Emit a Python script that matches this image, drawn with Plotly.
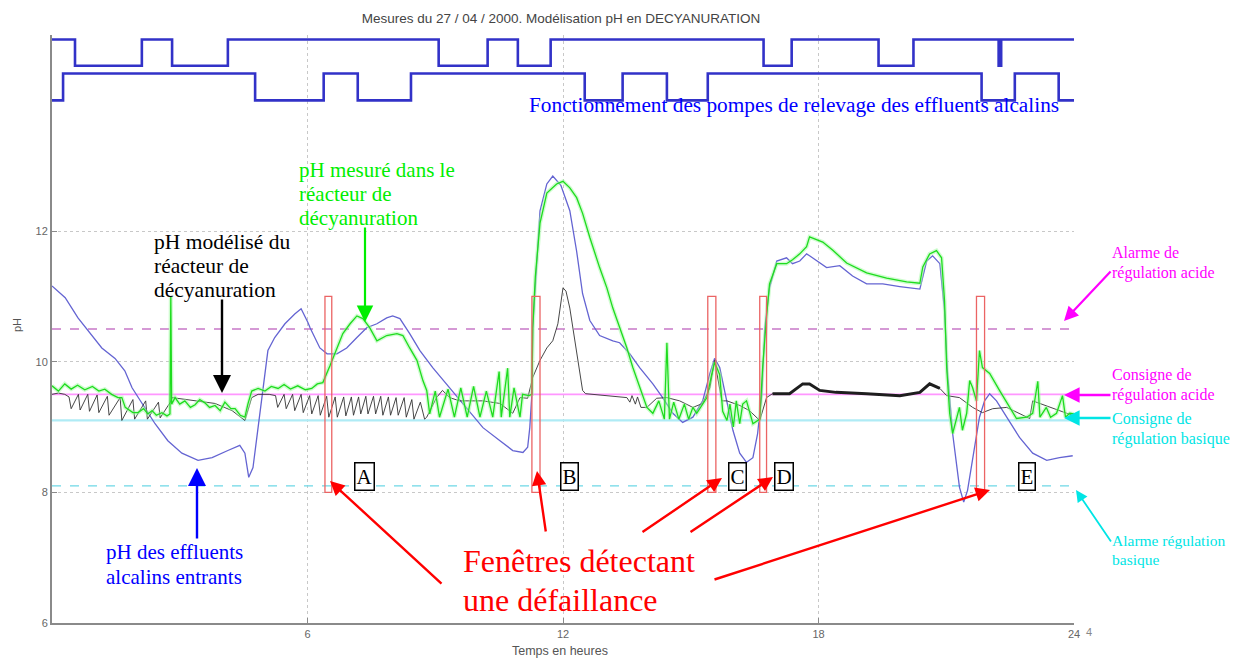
import plotly.graph_objects as go

# ---------------- data (hours, pH) ----------------
blue = [(0, 11.16), (0.31, 10.98), (0.61, 10.67), (0.85, 10.47), (1.17, 10.21), (1.48, 10.05), (1.71, 9.86),
        (1.88, 9.60), (2.11, 9.36), (2.42, 9.05), (2.72, 8.79), (3.05, 8.60), (3.43, 8.49), (3.76, 8.53),
        (4.13, 8.64), (4.41, 8.72), (4.53, 8.60), (4.62, 8.23), (4.72, 8.38), (4.84, 8.99), (5.0, 9.86),
        (5.07, 10.17), (5.23, 10.37), (5.47, 10.58), (5.70, 10.73), (5.85, 10.81), (6.01, 10.60), (6.06, 10.52),
        (6.29, 10.21), (6.46, 10.12), (6.69, 10.12), (6.92, 10.21), (7.16, 10.37), (7.39, 10.52), (7.63, 10.58),
        (7.86, 10.67), (8.0, 10.70), (8.17, 10.66), (8.40, 10.43), (8.64, 10.17), (8.94, 9.91), (9.34, 9.60),
        (9.74, 9.30), (10.12, 8.99), (10.52, 8.79), (10.82, 8.64), (11.06, 8.61), (11.17, 8.69), (11.22, 8.99),
        (11.27, 9.51), (11.29, 10.52), (11.38, 11.54), (11.46, 12.31), (11.62, 12.72), (11.76, 12.84),
        (11.95, 12.70), (12.16, 12.31), (12.32, 11.69), (12.46, 11.04), (12.63, 10.63), (12.86, 10.40),
        (13.17, 10.32), (13.33, 10.29), (13.57, 10.12), (13.80, 9.91), (14.11, 9.66), (14.34, 9.45),
        (14.58, 9.21), (14.81, 9.07), (15.05, 9.15), (15.28, 9.40), (15.45, 9.82), (15.56, 10.05), (15.68, 9.91),
        (15.85, 9.40), (15.99, 8.95), (16.15, 8.60), (16.31, 8.46), (16.46, 8.53), (16.57, 8.90), (16.67, 9.51),
        (16.74, 10.52), (16.85, 11.13), (17.02, 11.54), (17.25, 11.59), (17.39, 11.50), (17.56, 11.54),
        (17.72, 11.65), (17.79, 11.62), (18.19, 11.44), (18.5, 11.47), (18.8, 11.31), (19.13, 11.19),
        (19.51, 11.19), (19.91, 11.15), (20.38, 11.11), (20.54, 11.54), (20.68, 11.62), (20.85, 11.50),
        (20.96, 10.78), (21.03, 9.82), (21.15, 8.90), (21.31, 8.08), (21.41, 7.85), (21.5, 8.03), (21.62, 8.53),
        (21.78, 9.15), (21.9, 9.40), (22.02, 9.51), (22.18, 9.40), (22.42, 9.15), (22.72, 8.84), (23.03, 8.60),
        (23.36, 8.49), (23.66, 8.53), (23.97, 8.56)]

green = [(0.0, 9.63), (0.15, 9.55), (0.3, 9.66), (0.45, 9.58), (0.6, 9.64), (0.77, 9.57), (0.95, 9.62),
         (1.1, 9.55), (1.24, 9.58), (1.4, 9.50), (1.55, 9.45), (1.64, 9.45), (1.72, 9.30), (1.78, 9.27),
         (1.9, 9.22), (2.02, 9.22), (2.15, 9.28), (2.25, 9.20), (2.35, 9.25), (2.45, 9.18), (2.58, 9.22),
         (2.7, 9.17), (2.77, 9.20), (2.79, 11.0), (2.81, 9.35), (2.89, 9.45), (3.0, 9.35), (3.12, 9.40),
         (3.25, 9.30), (3.36, 9.34), (3.47, 9.42), (3.59, 9.37), (3.7, 9.30), (3.83, 9.33), (3.95, 9.25),
         (4.06, 9.38), (4.2, 9.28), (4.30, 9.28), (4.42, 9.18), (4.53, 9.15), (4.60, 9.35), (4.69, 9.55),
         (4.84, 9.59), (5.0, 9.55), (5.15, 9.62), (5.31, 9.59), (5.45, 9.65), (5.6, 9.58), (5.77, 9.63),
         (5.95, 9.57), (6.10, 9.59), (6.23, 9.66), (6.36, 9.68), (6.53, 9.94), (6.69, 10.21), (6.83, 10.43),
         (7.0, 10.58), (7.16, 10.70), (7.30, 10.66), (7.46, 10.52), (7.63, 10.32), (7.86, 10.40), (8.10, 10.43),
         (8.24, 10.40), (8.40, 10.21), (8.57, 10.02), (8.71, 9.71), (8.80, 9.56), (8.87, 9.20), (9.0, 9.55),
         (9.1, 9.15), (9.3, 9.58), (9.45, 9.15), (9.6, 9.60), (9.75, 9.15), (9.9, 9.62), (10.05, 9.15),
         (10.2, 9.55), (10.35, 9.15), (10.5, 9.85), (10.55, 9.15), (10.7, 9.90), (10.75, 9.15), (10.85, 9.60),
         (10.99, 9.15), (11.05, 9.50), (11.2, 9.48), (11.27, 9.50), (11.29, 10.52), (11.35, 11.3),
         (11.46, 12.12), (11.62, 12.58), (11.85, 12.72), (12.0, 12.76), (12.16, 12.66), (12.32, 12.51),
         (12.46, 12.27), (12.63, 11.90), (12.86, 11.44), (13.03, 11.13), (13.17, 10.82), (13.33, 10.52),
         (13.50, 10.21), (13.64, 9.91), (13.80, 9.60), (13.97, 9.30), (14.11, 9.21), (14.25, 9.40),
         (14.38, 9.12), (14.44, 10.29), (14.5, 9.12), (14.6, 9.38), (14.72, 9.12), (14.85, 9.35), (14.95, 9.12),
         (15.05, 9.30), (15.14, 9.21), (15.38, 9.45), (15.49, 9.80), (15.56, 9.99), (15.68, 9.80), (15.75, 9.24),
         (15.85, 9.10), (15.92, 9.35), (16.0, 9.00), (16.07, 9.40), (16.15, 9.05), (16.22, 9.35), (16.31, 9.40),
         (16.46, 9.05), (16.62, 9.12), (16.69, 9.93), (16.78, 10.69), (16.85, 11.19), (17.02, 11.50),
         (17.25, 11.50), (17.39, 11.56), (17.56, 11.65), (17.72, 11.76), (17.79, 11.91), (18.10, 11.83),
         (18.33, 11.71), (18.66, 11.51), (19.13, 11.36), (19.60, 11.28), (20.07, 11.22), (20.38, 11.20),
         (20.45, 11.45), (20.61, 11.65), (20.77, 11.70), (20.89, 11.59), (20.96, 10.93), (21.01, 9.91),
         (21.08, 9.21), (21.15, 8.90), (21.24, 9.15), (21.31, 9.30), (21.38, 8.95), (21.48, 9.21), (21.55, 9.71),
         (21.62, 9.60), (21.71, 9.40), (21.78, 10.17), (21.85, 9.91), (22.02, 9.82), (22.25, 9.56),
         (22.49, 9.30), (22.65, 9.13), (22.89, 9.15), (23.03, 9.21), (23.15, 9.70), (23.2, 9.15), (23.35, 9.30),
         (23.45, 9.15), (23.59, 9.21), (23.73, 9.48), (23.8, 9.15), (23.9, 9.21), (24.0, 9.20)]

black = [(0.00, 9.50), (0.15, 9.52), (0.30, 9.50), (0.40, 9.46), (0.45, 9.28), (0.62, 9.50), (0.66, 9.26),
         (0.84, 9.50), (0.88, 9.24), (1.06, 9.49), (1.10, 9.22), (1.30, 9.47), (1.34, 9.18), (1.60, 9.45),
         (1.64, 9.10), (1.90, 9.42), (1.94, 9.12), (2.20, 9.40), (2.24, 9.12), (2.50, 9.38), (2.54, 9.14),
         (2.78, 9.38), (2.82, 9.45), (3.36, 9.40), (3.83, 9.36), (4.23, 9.25), (4.53, 9.10), (4.69, 9.45),
         (4.84, 9.50), (5.10, 9.50), (5.25, 9.48), (5.30, 9.30), (5.45, 9.50), (5.50, 9.28), (5.65, 9.50),
         (5.70, 9.25), (5.85, 9.50), (5.90, 9.22), (6.05, 9.48), (6.10, 9.20), (6.25, 9.48), (6.30, 9.18),
         (6.45, 9.47), (6.50, 9.15), (6.65, 9.46), (6.70, 9.15), (6.85, 9.46), (6.90, 9.17), (7.03, 9.46),
         (7.08, 9.18), (7.20, 9.46), (7.25, 9.20), (7.37, 9.47), (7.42, 9.20), (7.55, 9.47), (7.60, 9.20),
         (7.72, 9.47), (7.77, 9.18), (7.90, 9.46), (7.95, 9.18), (8.08, 9.45), (8.13, 9.18), (8.27, 9.45),
         (8.32, 9.15), (8.45, 9.42), (8.50, 9.12), (8.65, 9.38), (8.75, 9.12), (8.80, 9.15), (9.03, 9.45),
         (9.17, 9.56), (9.34, 9.45), (9.57, 9.40), (10.12, 9.40), (10.52, 9.36), (10.82, 9.21), (10.99, 9.45),
         (11.17, 9.44), (11.29, 9.76), (11.46, 10.02), (11.62, 10.21), (11.76, 10.32), (11.88, 10.58),
         (12.0, 11.13), (12.07, 11.08), (12.16, 10.82), (12.30, 10.21), (12.46, 9.56), (12.53, 9.51),
         (13.03, 9.48), (13.50, 9.45), (13.57, 9.38), (13.62, 9.48), (13.70, 9.35), (13.75, 9.46), (13.83, 9.30),
         (13.97, 9.30), (14.20, 9.44), (14.44, 9.45), (14.74, 9.40), (15.05, 9.30), (15.28, 9.36), (15.45, 9.60),
         (15.56, 10.02), (15.61, 9.82), (15.73, 9.40), (15.85, 9.40), (16.15, 9.33), (16.38, 9.25), (16.62, 9.10),
         (16.78, 9.45), (16.92, 9.51), (17.32, 9.51), (17.63, 9.66), (17.79, 9.66), (18.03, 9.56), (18.41, 9.53),
         (19.13, 9.51), (19.91, 9.48), (20.38, 9.53), (20.61, 9.66), (20.85, 9.59), (21.01, 9.48), (21.31, 9.45),
         (21.62, 9.30), (21.85, 9.22), (22.09, 9.28), (22.42, 9.30), (22.72, 9.21), (22.96, 9.13), (23.03, 9.40),
         (23.43, 9.30), (23.83, 9.21), (23.97, 9.18)]

# pump operation (time of each change, state after it)
pump1_t = [0, 0.54, 2.11, 2.82, 4.13, 9.08, 10.23, 10.94, 11.71, 16.71, 17.37, 19.41, 20.23, 22.23, 22.29, 24]
pump1_on = [1, 0, 1, 0, 1, 0, 1, 0, 1, 0, 1, 0, 1, 0, 1, 1]
pump2_t = [0, 0.26, 4.77, 6.38, 7.18, 8.43, 12.51, 13.40, 14.44, 15.40, 21.83, 22.61, 23.64, 24]
pump2_on = [0, 1, 0, 1, 0, 1, 0, 1, 0, 1, 0, 1, 0, 0]
pump1_levels = (14.53, 14.93)
pump2_levels = (14.00, 14.41)

# regulation thresholds (pH)
alarme_acide = 10.5
consigne_acide = 9.5
consigne_basique = 9.1
alarme_basique = 8.1

# failure-detection windows
win_start = [6.41, 11.27, 15.40, 16.62, 21.71]
win_end = [6.57, 11.46, 15.59, 16.78, 21.90]
win_low, win_high = 8.0, 11.0
win_labels = ["A", "B", "C", "D", "E"]
win_label_t = [7.35, 12.16, 16.10, 17.20, 22.90]
win_label_ph = 8.24

x_ticks = [6, 12, 18, 24]
y_ticks = [6, 8, 10, 12]

# ---------------- figure ----------------
OFF = 8                     # page body margin
W, H = 1239 - OFF, 660 - OFF
PL, PR, PT, PB = 52, 1074, 35, 623   # plot area on screen
L, R, T, B = PL - OFF, W - (PR - OFF), PT - OFF, H - (PB - OFF)
XR = (0, 24)
YR = (6, 15)


def PX(px):
    return (px - PL) / (PR - PL)


def PY(py):
    return (PB - py) / (PB - PT)


fig = go.Figure()

# thresholds
for val, col, dash, w in [(alarme_acide, "rgb(200,120,200)", "dash", 1.3),
                          (consigne_acide, "rgb(255,150,255)", "solid", 1.6),
                          (consigne_basique, "rgb(175,235,245)", "solid", 2.2),
                          (alarme_basique, "rgb(110,215,230)", "dash", 1.3)]:
    fig.add_trace(go.Scatter(x=list(XR), y=[val, val], mode="lines",
                             line=dict(color=col, width=w, dash=dash), hoverinfo="skip"))

# pumps
fig.add_trace(go.Scatter(x=pump1_t, y=[pump1_levels[s] for s in pump1_on], mode="lines",
                         line=dict(color="rgb(50,50,200)", width=2.6, shape="hv")))
fig.add_trace(go.Scatter(x=pump2_t, y=[pump2_levels[s] for s in pump2_on], mode="lines",
                         line=dict(color="rgb(50,50,200)", width=2.6, shape="hv")))

bt, bp = zip(*blue)
gt, gp = zip(*green)
kt, kp = zip(*black)
noisy = [(t, p) for t, p in black if 16.85 <= t <= 20.9]
nt, np_ = zip(*noisy)

fig.add_trace(go.Scatter(x=bt, y=bp, mode="lines", line=dict(color="rgb(100,100,210)", width=1.3)))
fig.add_trace(go.Scatter(x=kt, y=kp, mode="lines", line=dict(color="rgb(50,50,50)", width=0.9)))
fig.add_trace(go.Scatter(x=nt, y=np_, mode="lines", line=dict(color="rgb(30,30,30)", width=3.0)))
fig.add_trace(go.Scatter(x=gt, y=gp, mode="lines", line=dict(color="rgba(160,250,160,0.5)", width=4)))
fig.add_trace(go.Scatter(x=gt, y=gp, mode="lines", line=dict(color="rgb(30,220,30)", width=1.3)))

# windows
for s, e in zip(win_start, win_end):
    fig.add_shape(type="rect", x0=s, x1=e, y0=win_low, y1=win_high, xref="x", yref="y",
                  line=dict(color="rgb(235,100,100)", width=1.3))

serif = "Liberation Serif, Times New Roman, serif"
sans = "Liberation Sans, Arial, sans-serif"

for lab, t in zip(win_labels, win_label_t):
    fig.add_annotation(x=t, y=win_label_ph, text=lab, showarrow=False,
                       font=dict(family=serif, size=21, color="black"),
                       bordercolor="black", borderwidth=1.5, borderpad=1, bgcolor="white")


def txt(px, py, s, color, size, anchor="left", family=serif, angle=0):
    fig.add_annotation(x=PX(px), y=PY(py), xref="paper", yref="paper", text=s, showarrow=False,
                       xanchor=anchor, yanchor="middle", textangle=angle,
                       font=dict(family=family, size=size, color=color))


def arrow(x0, y0, x1, y1, color, width=2.2, size=1.4):
    fig.add_annotation(x=PX(x1), y=PY(y1), xref="paper", yref="paper", ax=x0 - x1, ay=y0 - y1,
                       text="", showarrow=True, arrowhead=2, arrowsize=size, arrowwidth=width,
                       arrowcolor=color)


txt(1061, 105, "Fonctionnement des pompes de relevage des effluents alcalins", "#0000ff", 21.3, "right")

for i, s in enumerate(["pH mesuré dans le", "réacteur de", "décyanuration"]):
    txt(297, 170 + 24 * i, s, "#00ee00", 21)
arrow(365, 226, 365, 322, "#00ee00", 2.2, 1.5)

for i, s in enumerate(["pH modélisé du", "réacteur de", "décyanuration"]):
    txt(152, 242 + 24 * i, s, "black", 21.5)
arrow(222, 298, 222, 393, "black", 2.4, 1.5)

for i, s in enumerate(["pH des effluents", "alcalins entrants"]):
    txt(104, 552 + 25 * i, s, "#0000ff", 21)
arrow(197, 540, 197, 468, "#0000ff", 2.4, 1.5)

for i, s in enumerate(["Fenêtres détectant", "une défaillance"]):
    txt(461, 561 + 39 * i, s, "#ff0000", 32)
for x0, y0, x1, y1 in [(443, 585, 330, 481), (546, 533, 537, 471), (641, 533, 722, 478),
                       (689, 533, 773, 477), (713, 580, 990, 490)]:
    arrow(x0, y0, x1, y1, "#ff0000", 2.4, 1.2)

for i, s in enumerate(["Alarme de", "régulation acide"]):
    txt(1110, 253 + 20 * i, s, "#ff00ff", 16)
arrow(1112, 270, 1064, 321, "#ff00ff", 2.2, 1.3)
for i, s in enumerate(["Consigne de", "régulation acide"]):
    txt(1110, 375 + 20 * i, s, "#ff00ff", 16)
arrow(1112, 395, 1064, 395, "#ff00ff", 2.4, 1.3)
for i, s in enumerate(["Consigne de", "régulation basique"]):
    txt(1110, 419 + 20 * i, s, "#00e5e5", 16)
arrow(1112, 418, 1064, 418, "#00e5e5", 2.4, 1.3)
for i, s in enumerate(["Alarme régulation", "basique"]):
    txt(1110, 540 + 19 * i, s, "#00e5e5", 15.5)
arrow(1112, 543, 1076, 490, "#00e5e5", 1.8, 1.3)

# axis titles and stray tick
txt(560, 651, "Temps en heures", "#555", 12.5, "center", sans)
txt(17, 325, "pH", "#555", 11, "center", sans, -90)
txt(1089, 632, "4", "#888", 11, "center", sans)

axis_common = dict(showline=True, linecolor="#8a8a8a", linewidth=2, ticks="inside", ticklen=5,
                   tickcolor="#8a8a8a", showgrid=True, gridcolor="#c8c8c8", griddash="dot", gridwidth=1,
                   zeroline=False, tickfont=dict(family=sans, size=11, color="#666"))
fig.update_xaxes(range=list(XR), tickvals=x_ticks, **axis_common)
fig.update_yaxes(range=list(YR), tickvals=y_ticks, **axis_common)

fig.update_layout(width=W, height=H, margin=dict(l=L, r=R, t=T, b=B), showlegend=False,
                  plot_bgcolor="white", paper_bgcolor="white",
                  title=dict(text="Mesures du 27 / 04 / 2000. Modélisation pH en DECYANURATION",
                             x=(561 - OFF) / W, xanchor="center", y=1 - (18 - OFF) / H, yanchor="middle",
                             font=dict(family=sans, size=13.5, color="#444")))

fig.write_html("out.html")
